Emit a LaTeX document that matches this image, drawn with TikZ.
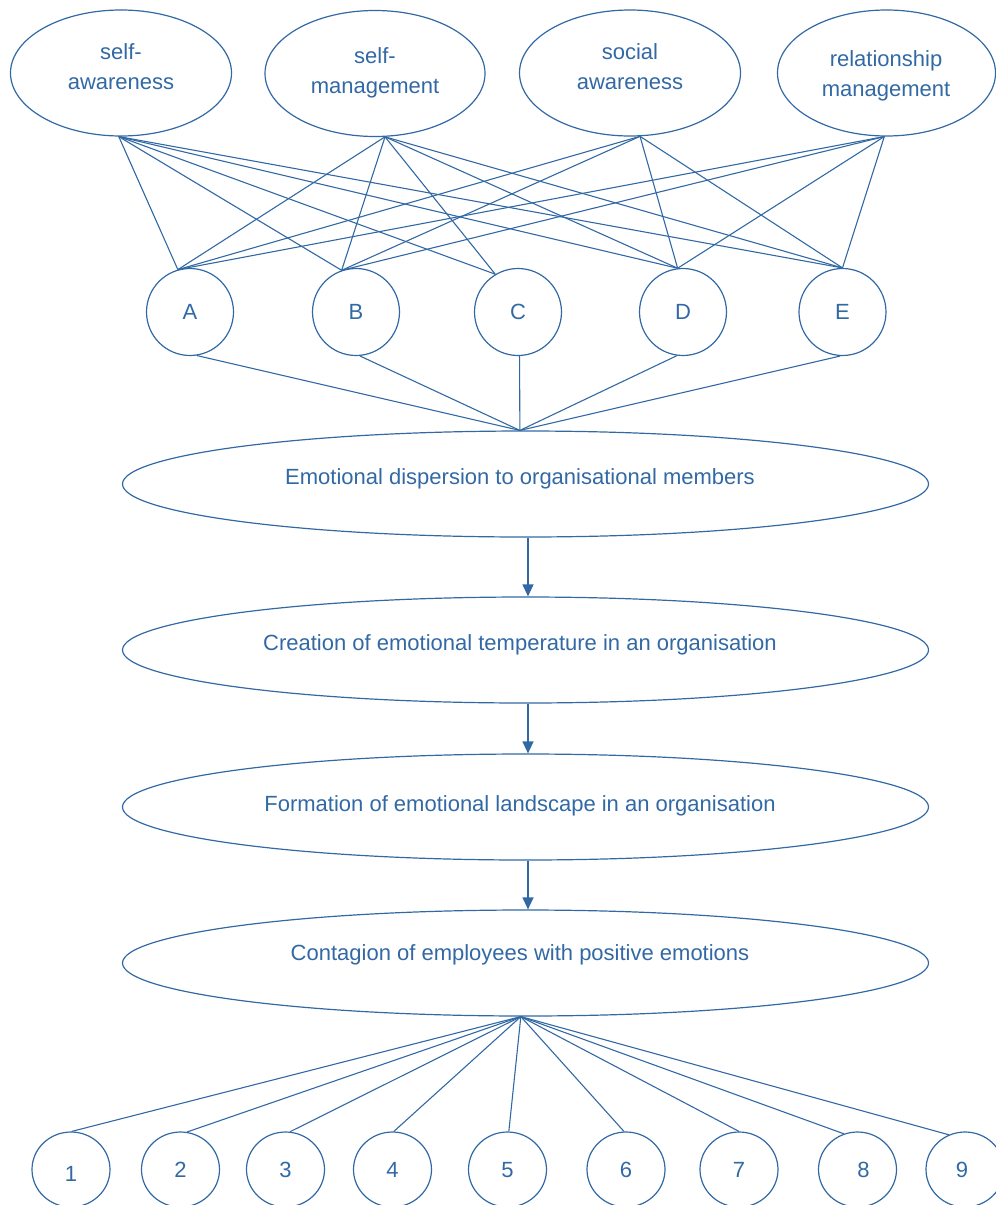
\documentclass[tikz,border=0pt]{standalone}
\usepackage{fontspec}
\setmainfont{Liberation Sans}
\usetikzlibrary{shapes.geometric,arrows.meta}
\definecolor{dblue}{RGB}{50,105,165}
\begin{document}
\begin{tikzpicture}[x=1pt,y=-1pt,
  lbl/.style={text=dblue, font=\fontsize{22}{30}\selectfont, align=center, inner sep=0pt},
  topell/.style={ellipse, draw=dblue, line width=1.2pt, minimum height=126pt, inner sep=0pt},
  letcirc/.style={circle, draw=dblue, line width=1.2pt, minimum size=87pt, inner sep=0pt, text=dblue, font=\fontsize{22}{26}\selectfont},
  bigell/.style={ellipse, draw=dblue, line width=1.2pt, minimum width=806pt, minimum height=106pt, inner sep=0pt},
  numell/.style={ellipse, draw=dblue, line width=1.2pt, minimum width=78pt, minimum height=75pt, inner sep=0pt, text=dblue, font=\fontsize{22}{26}\selectfont, text height=16pt, text depth=0pt},
  conn/.style={draw=dblue, line width=1.1pt},
  flow/.style={draw=dblue, line width=1.2pt, -{Triangle[length=12pt,width=11pt]}}
]
\useasboundingbox (0,0) rectangle (996,1205);

% top ellipses
\node[topell, minimum width=221pt] (sa) at (121,73) {};
\node[topell, minimum width=220pt] (sm) at (375,73.5) {};
\node[topell, minimum width=221pt] (soc) at (630,73) {};
\node[topell, minimum width=218pt] (rel) at (886.5,73) {};
\node[lbl] (sat) at (121,67) {self-\\awareness};
\node[lbl] (smt) at (375,72.5) {self-\\management};
\node[lbl] (soct) at (630,67) {social\\awareness};
\node[lbl] (relt) at (886,75.5) {relationship\\management};

% letter circles
\node[letcirc] (A) at (190,312) {A};
\node[letcirc] (B) at (356,312) {B};
\node[letcirc] (C) at (518,312) {C};
\node[letcirc] (D) at (683,312) {D};
\node[letcirc] (E) at (842.5,312) {E};

% connectors top -> circles
\foreach \t/\a in {sa/-92, sm/-81, soc/-81, rel/-92}{
  \draw[conn] (\t.\a) -- (A.106);
  \draw[conn] (\t.\a) -- (B.109);
  \draw[conn] (\t.\a) -- (D.97);
  \draw[conn] (\t.\a) -- (E.90);
}
\draw[conn] (sa.-92) -- (C.121);
\draw[conn] (sm.-81) -- (C.121);

% big ellipses
\node[bigell] (e1) at (525.5,484) {};
\node[bigell] (e2) at (525.5,650) {};
\node[bigell] (e3) at (525.5,807) {};
\node[bigell] (e4) at (525.5,963) {};
\node[lbl] (e1t) at (520,479) {Emotional dispersion to organisational members};
\node[lbl] (e2t) at (520,645) {Creation of emotional temperature in an organisation};
\node[lbl] (e3t) at (520,806) {Formation of emotional landscape in an organisation};
\node[lbl] (e4t) at (520,955) {Contagion of employees with positive emotions};

% circles -> e1
\draw[conn] (A.-81) -- (e1.96);
\draw[conn] (B.-85) -- (e1.96);
\draw[conn] (C.-88) -- (e1.96);
\draw[conn] (D.-98) -- (e1.96);
\draw[conn] (E.-93) -- (e1.96);

% flow arrows
\draw[flow] ([xshift=2.5pt]e1.south) -- ([xshift=2.5pt]e2.north);
\draw[flow] ([xshift=2.5pt]e2.south) -- ([xshift=2.5pt]e3.north);
\draw[flow] ([xshift=2.5pt]e3.south) -- ([xshift=2.5pt]e4.north);

% number ellipses
\node[numell] (n1) at (71,1169.5) {\raisebox{-4pt}{1}};
\node[numell] (n2) at (180.5,1169.5) {2};
\node[numell] (n3) at (285.5,1169.5) {3};
\node[numell] (n4) at (392.5,1169.5) {4};
\node[numell] (n5) at (507.5,1169.5) {5};
\node[numell] (n6) at (626,1169.5) {6};
\node[numell] (n7) at (739,1169.5) {7};
\node[numell] (n8) at (857.5,1169.5) {\hspace*{12pt}8};
\node[numell] (n9) at (965,1169.5) {\hspace*{-6pt}9};

\foreach \n/\a in {n1/89, n2/80, n3/83, n4/88, n5/88, n6/93, n7/90, n8/111, n9/115}{
  \draw[conn] (e4.-95) -- (\n.\a);
}
\end{tikzpicture}
\end{document}
